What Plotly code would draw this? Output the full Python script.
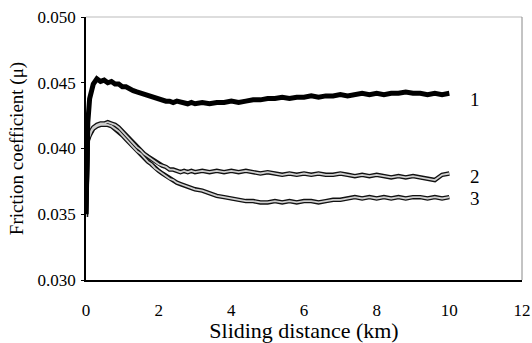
import plotly.graph_objects as go

distance_km = [0, 0.02, 0.05, 0.1, 0.15,
               0.2, 0.3, 0.4, 0.5, 0.6, 0.7, 0.8, 0.9, 1.0, 1.1, 1.2, 1.3, 1.4, 1.5, 1.6,
               1.7, 1.8, 1.9, 2.0, 2.1, 2.2, 2.3, 2.4, 2.5, 2.6, 2.7, 2.8, 2.9, 3.0,
               3.2, 3.4, 3.6, 3.8, 4.0, 4.2, 4.4, 4.6, 4.8, 5.0, 5.2, 5.4, 5.6, 5.8,
               6.0, 6.2, 6.4, 6.6, 6.8, 7.0, 7.2, 7.4, 7.6, 7.8, 8.0, 8.2, 8.4, 8.6,
               8.8, 9.0, 9.2, 9.4, 9.6, 9.8, 10.0]

mu_1 = [0.0350, 0.0395, 0.0420, 0.0438, 0.0445,
        0.0449, 0.0453, 0.0451, 0.0452, 0.0450, 0.0451, 0.0449, 0.0449, 0.0447, 0.0447,
        0.0445, 0.0444, 0.0443, 0.0442, 0.0441, 0.0440, 0.0439, 0.0438, 0.0437, 0.0437,
        0.0436, 0.0436, 0.0435, 0.0436, 0.0435, 0.0435, 0.0434, 0.0435, 0.0434,
        0.0435, 0.0434, 0.0435, 0.0435, 0.0436, 0.0435, 0.0436, 0.0437, 0.0437, 0.0438,
        0.0438, 0.0439, 0.0438, 0.0439, 0.0439, 0.0440, 0.0439, 0.0440, 0.0440, 0.0441,
        0.0440, 0.0441, 0.0442, 0.0441, 0.0442, 0.0441, 0.0442, 0.0442, 0.0443, 0.0442,
        0.0442, 0.0441, 0.0442, 0.0441, 0.0442]

mu_2 = [0.0350, 0.0395, 0.0407, 0.0411, 0.0414,
        0.0416, 0.0418, 0.0419, 0.0419, 0.0420, 0.0419, 0.0418, 0.0416, 0.0413, 0.0410,
        0.0407, 0.0404, 0.0401, 0.0399, 0.0396, 0.0394, 0.0392, 0.0390, 0.0388, 0.0387,
        0.0386, 0.0384, 0.0384, 0.0383, 0.0382, 0.0383, 0.0382, 0.0383, 0.0382,
        0.0383, 0.0382, 0.0383, 0.0382, 0.0383, 0.0382, 0.0383, 0.0382, 0.0381, 0.0382,
        0.0381, 0.0380, 0.0381, 0.0380, 0.0381, 0.0380, 0.0381, 0.0380, 0.0380, 0.0381,
        0.0380, 0.0379, 0.0380, 0.0379, 0.0380, 0.0379, 0.0378, 0.0379, 0.0378, 0.0379,
        0.0378, 0.0377, 0.0376, 0.0380, 0.0381]

mu_3 = [0.0348, 0.0393, 0.0406, 0.0410, 0.0413,
        0.0415, 0.0417, 0.0418, 0.0418, 0.0418, 0.0417, 0.0415, 0.0413, 0.0410, 0.0407,
        0.0404, 0.0401, 0.0398, 0.0396, 0.0393, 0.0390, 0.0388, 0.0385, 0.0383, 0.0381,
        0.0379, 0.0377, 0.0376, 0.0374, 0.0373, 0.0372, 0.0371, 0.0370, 0.0369,
        0.0368, 0.0366, 0.0364, 0.0363, 0.0362, 0.0361, 0.0360, 0.0360, 0.0359, 0.0359,
        0.0360, 0.0359, 0.0360, 0.0359, 0.0360, 0.0360, 0.0359, 0.0360, 0.0361, 0.0361,
        0.0362, 0.0363, 0.0362, 0.0363, 0.0362, 0.0363, 0.0362, 0.0363, 0.0362, 0.0363,
        0.0363, 0.0362, 0.0363, 0.0362, 0.0363]

series_labels = ["1", "2", "3"]
label_x = [10.7, 10.7, 10.7]
label_y = [0.0437, 0.03788, 0.03621]

x_ticks = [0, 2, 4, 6, 8, 10, 12]
y_ticks = [0.030, 0.035, 0.040, 0.045, 0.050]
y_ticktext = ["0.030", "0.035", "0.040", "0.045", "0.050"]

FONT = "Liberation Serif"

fig = go.Figure()
for ys in (mu_3, mu_2):
    fig.add_trace(go.Scatter(x=distance_km, y=ys, mode="lines",
                             line=dict(color="#111111", width=4.5), showlegend=False,
                             hoverinfo="skip"))
for ys in (mu_3, mu_2):
    fig.add_trace(go.Scatter(x=distance_km, y=ys, mode="lines",
                             line=dict(color="#d0d0d0", width=1.8), showlegend=False))
fig.add_trace(go.Scatter(x=distance_km, y=mu_1, mode="lines",
                         line=dict(color="#000000", width=5), showlegend=False))

for t, lx, ly in zip(series_labels, label_x, label_y):
    fig.add_annotation(x=lx, y=ly, text=t, showarrow=False, xanchor="center",
                       yanchor="middle", font=dict(family=FONT, size=19, color="#000"))

fig.add_shape(type="line", xref="paper", yref="paper", x0=0, x1=1, y0=1, y1=1,
              line=dict(color="#bbbbbb", width=1))
fig.add_shape(type="line", xref="paper", yref="paper", x0=1, x1=1, y0=0, y1=1,
              line=dict(color="#888888", width=1))

fig.update_layout(
    width=532, height=343,
    margin=dict(l=86, r=10, t=17, b=63),
    paper_bgcolor="white", plot_bgcolor="white",
    font=dict(family=FONT, color="#000"),
)
fig.update_xaxes(range=[0, 12], tickvals=x_ticks, showgrid=False, zeroline=False,
                 showline=True, linecolor="#000", linewidth=1.5, automargin=False,
                 ticks="", ticklabelstandoff=14, ticklabeloverflow="allow",
                 tickfont=dict(size=17, family=FONT, color="#000"),
                 title=dict(text="Sliding distance (km)",
                            font=dict(size=22, family=FONT, color="#000"), standoff=6))
fig.update_yaxes(range=[0.030, 0.050], tickvals=y_ticks, ticktext=y_ticktext,
                 showgrid=False, zeroline=False, showline=True, linecolor="#000",
                 linewidth=1.5, ticks="outside", ticklen=3, tickcolor="#000",
                 automargin=False, ticklabelstandoff=2, ticklabeloverflow="allow",
                 tickfont=dict(size=17, family=FONT, color="#000"),
                 title=dict(text="Friction coefficient (μ)",
                            font=dict(size=19, family=FONT, color="#000"), standoff=9))

fig.write_html(
    "out.html",
    config={"displayModeBar": False},
    post_script="document.body.style.margin='0';document.body.style.overflow='hidden';",
)
